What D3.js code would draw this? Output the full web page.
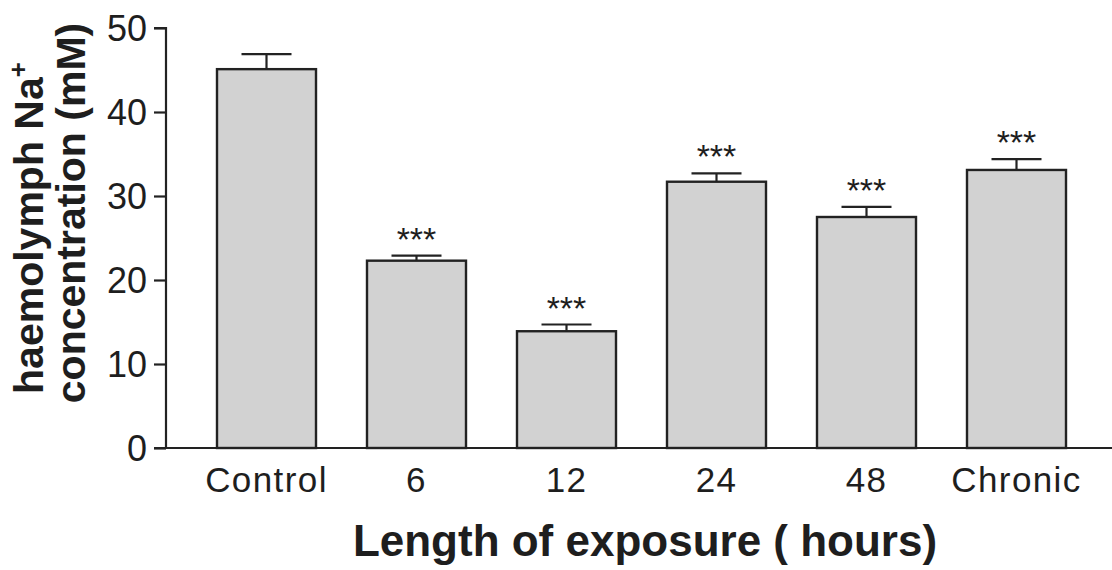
<!DOCTYPE html>
<html>
<head>
<meta charset="utf-8">
<script src="https://cdn.jsdelivr.net/npm/d3@7"></script>
<style>
  html, body { margin: 0; padding: 0; background: #fff; }
  svg { display: block; }
  text { font-family: "Liberation Sans", Arial, Helvetica, sans-serif; fill: #1e1e1e; }
</style>
</head>
<body>
<script>
// Haemolymph Na+ concentration by length of exposure
const categories = ["Control", "6", "12", "24", "48", "Chronic"];
const meanNa = [45.1, 22.3, 13.9, 31.7, 27.5, 33.1];
const semNa = [1.8, 0.6, 0.8, 1.0, 1.2, 1.3];
const significance = ["", "***", "***", "***", "***", "***"];
const yTicks = [0, 10, 20, 30, 40, 50];

const W = 1112, H = 570;
const svg = d3.select("body").append("svg").attr("width", W).attr("height", H);

const x = d3.scaleBand().domain(categories).range([166, 1117])
  .paddingInner(0.34).paddingOuter(0.34);
const y = d3.scaleLinear().domain([0, 50]).range([448, 28]);

const ink = "#222";

// bars
const data = categories.map((c, i) => ({ c, m: meanNa[i], s: semNa[i], sig: significance[i] }));
svg.append("g").selectAll("rect").data(data).join("rect")
  .attr("x", d => x(d.c))
  .attr("y", d => y(d.m))
  .attr("width", x.bandwidth())
  .attr("height", d => y(0) - y(d.m))
  .attr("fill", "#d2d2d2")
  .attr("stroke", ink)
  .attr("stroke-width", 2.4);

// error bars (upper only)
const eb = svg.append("g").attr("stroke", ink).attr("stroke-width", 2.2);
eb.selectAll("line.v").data(data).join("line").attr("class", "v")
  .attr("x1", d => x(d.c) + x.bandwidth() / 2)
  .attr("x2", d => x(d.c) + x.bandwidth() / 2)
  .attr("y1", d => y(d.m))
  .attr("y2", d => y(d.m + d.s));
eb.selectAll("line.cap").data(data).join("line").attr("class", "cap")
  .attr("x1", d => x(d.c) + x.bandwidth() / 2 - 25)
  .attr("x2", d => x(d.c) + x.bandwidth() / 2 + 25)
  .attr("y1", d => y(d.m + d.s))
  .attr("y2", d => y(d.m + d.s));

// significance markers
svg.append("g").selectAll("text").data(data.filter(d => d.sig)).join("text")
  .attr("x", d => x(d.c) + x.bandwidth() / 2)
  .attr("y", d => y(d.m + d.s) - 5)
  .attr("text-anchor", "middle")
  .attr("font-size", 34)
  .text(d => d.sig);

// y axis
const yAxis = d3.axisLeft(y).tickValues(yTicks).tickSize(12).tickPadding(7).tickFormat(d3.format("d"));
const gy = svg.append("g").attr("transform", "translate(166,0)").call(yAxis);
gy.select(".domain").attr("stroke", ink).attr("stroke-width", 2.2)
  .attr("d", `M-12,${y(50)}H0V${y(0)}`);
gy.selectAll(".tick line").attr("stroke", ink).attr("stroke-width", 2.2);
gy.selectAll(".tick text").attr("font-size", 36).attr("fill", "#1e1e1e")
  .attr("font-family", "Liberation Sans, Arial, sans-serif").attr("dy", "0.34em");

// x axis
const xAxis = d3.axisBottom(x).tickSize(0).tickPadding(0);
const gx = svg.append("g").attr("transform", `translate(0,${y(0)})`).call(xAxis);
gx.select(".domain").attr("stroke", ink).attr("stroke-width", 2.2)
  .attr("d", `M154,0H${W}`);
gx.selectAll(".tick text").attr("font-size", 35).attr("fill", "#1e1e1e")
  .attr("font-family", "Liberation Sans, Arial, sans-serif")
  .attr("letter-spacing", "1.4px")
  .attr("y", 44).attr("dy", 0);

// axis titles
svg.append("text")
  .attr("x", 645).attr("y", 556)
  .attr("text-anchor", "middle")
  .attr("font-size", 44).attr("font-weight", "bold")
  .text("Length of exposure ( hours)");

const t1 = svg.append("text")
  .attr("transform", "translate(43,228) rotate(-90)")
  .attr("text-anchor", "middle")
  .attr("font-size", 41).attr("font-weight", "bold");
t1.append("tspan").text("haemolymph Na");
t1.append("tspan").attr("dy", -16).attr("font-size", 26).text("+");

svg.append("text")
  .attr("transform", "translate(85,213) rotate(-90)")
  .attr("text-anchor", "middle")
  .attr("font-size", 41).attr("font-weight", "bold")
  .text("concentration (mM)");
</script>
</body>
</html>
